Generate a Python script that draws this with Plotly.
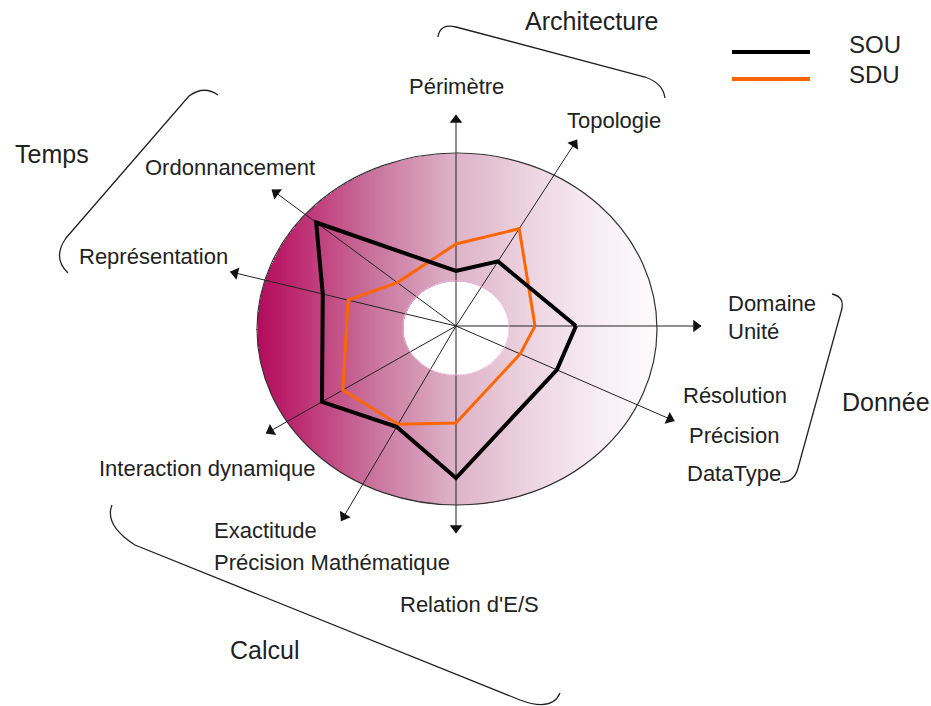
import numpy as np
import plotly.graph_objects as go

W, H = 931, 706
FONT = "Liberation Sans, Arial, sans-serif"

# axes of the radar (angle in degrees, counterclockwise from east)
axes = ["Domaine / Unité", "Topologie", "Périmètre", "Ordonnancement", "Représentation",
        "Interaction dynamique", "Exactitude / Précision Mathématique", "Relation d'E/S",
        "Résolution / Précision / DataType"]
axis_angle = [0, 57, 90, 143.5, 166.5, 209.5, 239.5, 270, 336.5]
axis_length = [245, 222, 211, 229, 232, 218, 226, 207, 238]

# series values (same radial scale as the axes)
sou = [120, 77, 55, 174, 137, 154, 117, 152, 110]
sdu = [79, 116, 82, 73, 111, 130, 114, 97, 70]

# centre of the drawing, in pixels
cx, cy = 456, 326
R = 250

fig = go.Figure()

# gradient disc with a white hole in the middle
ex, ey, erx, ery = 457, 329, 200, 176
hx, hy, hrx, hry = 456, 328, 53, 47
gx = np.arange(ex - erx, ex + erx + 1)
gy = np.arange(ey - ery, ey + ery + 1)
XX, YY = np.meshgrid(gx, gy)
inside = ((XX - ex) / erx) ** 2 + ((YY - ey) / ery) ** 2 <= 1
hole = ((XX - hx) / hrx) ** 2 + ((YY - hy) / hry) ** 2 < 1
z = (XX - gx[0]) / (gx[-1] - gx[0])
z = np.where(inside & ~hole, z, np.nan)
fig.add_trace(go.Heatmap(
    x=gx, y=gy, z=z, zmin=0, zmax=1, showscale=False, hoverinfo="skip",
    colorscale=[[0, "rgb(178,12,92)"], [0.08, "rgb(188,36,108)"], [0.28, "rgb(200,112,154)"],
                [0.49, "rgb(221,178,199)"], [0.7, "rgb(238,215,226)"], [0.87, "rgb(248,240,244)"],
                [1, "rgb(253,251,252)"]],
))
# faint pink rim around the hole
shapes = [dict(type="circle", xref="x", yref="y", layer="above",
               x0=hx - hrx, x1=hx + hrx, y0=hy - hry, y1=hy + hry,
               line=dict(color="rgba(235,180,220,0.6)", width=1.5))]

# axis lines with arrow heads
ar, at = [], []
for a, l in zip(axis_angle, axis_length):
    ar += [0, l, None]
    at += [a, a, None]
fig.add_trace(go.Scatterpolar(r=ar, theta=at, mode="lines", line=dict(color="#222", width=1),
                              showlegend=False, hoverinfo="skip"))
fig.add_trace(go.Scatterpolar(
    r=[l - 5 for l in axis_length], theta=axis_angle, mode="markers",
    marker=dict(symbol="triangle-up", size=11, color="#111",
                angle=[90 - a for a in axis_angle]),
    showlegend=False, hoverinfo="skip"))

fig.add_trace(go.Scatterpolar(r=sdu + sdu[:1], theta=axis_angle + axis_angle[:1], mode="lines",
                              name="SDU", line=dict(color="#FF6600", width=3), showlegend=False))
fig.add_trace(go.Scatterpolar(r=sou + sou[:1], theta=axis_angle + axis_angle[:1], mode="lines",
                              name="SOU", line=dict(color="#000", width=4), showlegend=False))

shapes += [
    dict(type="circle", xref="x", yref="y", x0=ex - erx, x1=ex + erx, y0=ey - ery, y1=ey + ery,
         line=dict(color="#333", width=1.2)),
    # braces
    dict(type="path", xref="x", yref="y", path="M 438,37 Q 440,23 456,27 L 645,77 Q 663,83 665,98",
         line=dict(color="#222", width=1.3)),
    dict(type="path", xref="x", yref="y", path="M 218,95 Q 204,85 189,96 L 66,238 Q 52,258 68,273",
         line=dict(color="#222", width=1.3)),
    dict(type="path", xref="x", yref="y", path="M 832,294 Q 846,297 841,312 L 798,468 Q 794,483 780,482",
         line=dict(color="#222", width=1.3)),
    dict(type="path", xref="x", yref="y", path="M 112,505 Q 104,525 135,545 L 520,700 Q 552,712 560,693",
         line=dict(color="#222", width=1.3)),
    # legend
    dict(type="line", xref="x", yref="y", x0=732, x1=810, y0=52, y1=52, line=dict(color="#000", width=4)),
    dict(type="line", xref="x", yref="y", x0=732, x1=810, y0=79, y1=79, line=dict(color="#FF6600", width=4)),
]

labels = [
    ("Périmètre", 407, 86, 22), ("Topologie", 565, 120, 22), ("Ordonnancement", 143, 167, 22),
    ("Représentation", 77, 256, 22), ("Domaine", 726, 303, 22), ("Unité", 726, 331, 22),
    ("Résolution", 681, 395, 22), ("Précision", 687, 435, 22), ("DataType", 685, 473, 22),
    ("Interaction dynamique", 97, 468, 22), ("Exactitude", 212, 530, 22),
    ("Précision Mathématique", 212, 562, 22), ("Relation d'E/S", 398, 604, 22),
    ("Architecture", 523, 21, 25), ("Temps", 13, 154, 25), ("Donnée", 840, 402, 25),
    ("Calcul", 228, 650, 25), ("SOU", 847, 44, 24), ("SDU", 847, 74, 24),
]
annotations = [dict(text=t, x=x, y=y, xref="x", yref="y", xanchor="left", yanchor="middle",
                    showarrow=False, font=dict(size=s, color="#222", family=FONT))
               for t, x, y, s in labels]

fig.update_layout(
    width=W, height=H, margin=dict(l=0, r=0, t=0, b=0),
    paper_bgcolor="white", plot_bgcolor="white",
    xaxis=dict(range=[0, W], visible=False, domain=[0, 1]),
    yaxis=dict(range=[H, 0], visible=False, domain=[0, 1]),
    polar=dict(
        domain=dict(x=[(cx - R) / W, (cx + R) / W], y=[1 - (cy + R) / H, 1 - (cy - R) / H]),
        bgcolor="rgba(0,0,0,0)",
        radialaxis=dict(range=[0, R], visible=False, showgrid=False, showline=False),
        angularaxis=dict(visible=False, showgrid=False, showline=False, rotation=0,
                         direction="counterclockwise"),
    ),
    shapes=shapes, annotations=annotations, font=dict(family=FONT),
)

fig.write_html("out.html", config={"displayModeBar": False},
               post_script="document.body.style.margin='0';")
